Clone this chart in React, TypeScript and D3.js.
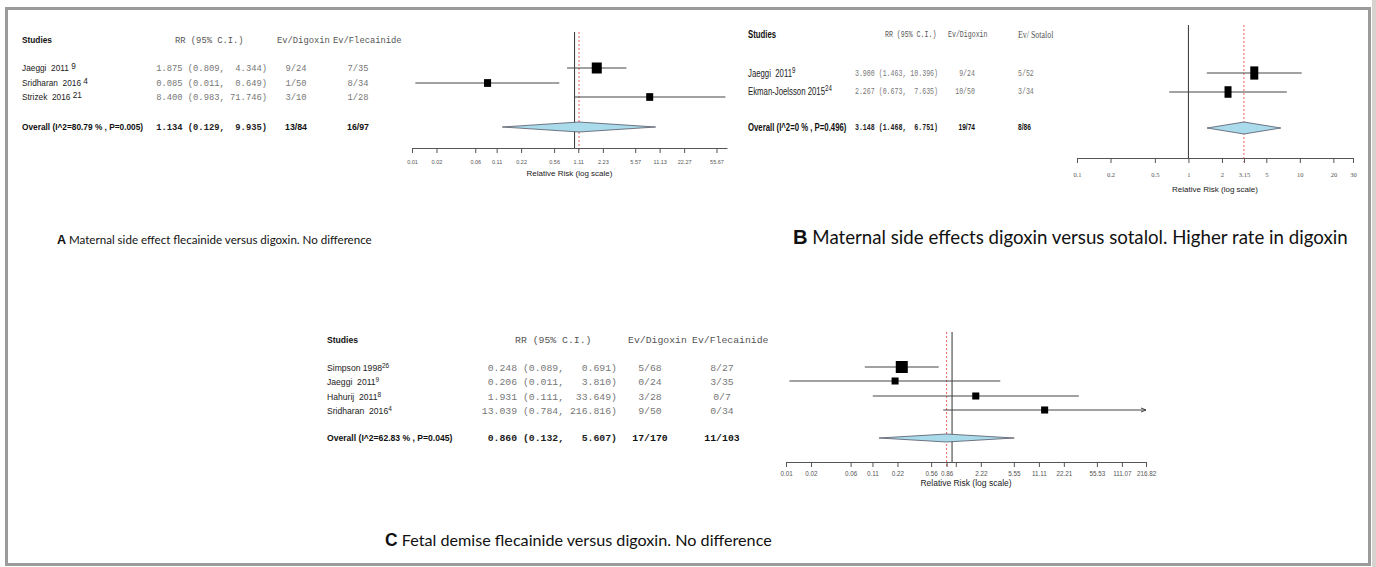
import React, { useEffect, useRef } from "react";
import * as d3 from "d3";

const W = 1376;
const H = 567;

const sans = "'Liberation Sans', Arial, sans-serif";
const mono = "'Liberation Mono', 'Courier New', monospace";
const serif = "'Liberation Serif', 'Times New Roman', serif";
const captionFont = "Lato, 'Open Sans', sans-serif";

// A: maternal side effect, flecainide vs digoxin
const aStudies = ["Jaeggi  2011", "Sridharan  2016", "Strizek  2016"];
const aRefs = ["9", "4", "21"];
const aRR = [1.875, 0.085, 8.4];
const aLo = [0.809, 0.011, 0.983];
const aHi = [4.344, 0.649, 71.746];
const aDigoxin = ["9/24", "1/50", "3/10"];
const aFlecainide = ["7/35", "8/34", "1/28"];
const aOverallLabel = "Overall (I^2=80.79 % , P=0.005)";
const aOverall = [1.134, 0.129, 9.935];
const aOverallEvents = ["13/84", "16/97"];
const aHeaders = ["RR (95% C.I.)", "Ev/Digoxin", "Ev/Flecainide"];
const aDomain = [0.01, 75];
const aTicks = [0.01, 0.02, 0.06, 0.11, 0.22, 0.56, 1.11, 2.23, 5.57, 11.13, 22.27, 55.67];
const aTickLabels = ["0.01", "0.02", "0.06", "0.11", "0.22", "0.56", "1.11", "2.23", "5.57", "11.13", "22.27", "55.67"];

// B: maternal side effects, digoxin vs sotalol
const bStudies = ["Jaeggi  2011", "Ekman-Joelsson 2015"];
const bRefs = ["9", "24"];
const bRR = [3.9, 2.267];
const bLo = [1.463, 0.673];
const bHi = [10.396, 7.635];
const bDigoxin = ["9/24", "10/50"];
const bSotalol = ["5/52", "3/34"];
const bOverallLabel = "Overall (I^2=0 % , P=0.496)";
const bOverall = [3.148, 1.468, 6.751];
const bOverallEvents = ["19/74", "8/86"];
const bHeaders = ["RR (95% C.I.)", "Ev/Digoxin", "Ev/ Sotalol"];
const bDomain = [0.1, 30];
const bTicks = [0.1, 0.2, 0.5, 1, 2, 3.15, 5, 10, 20, 30];
const bTickLabels = ["0.1", "0.2", "0.5", "1", "2", "3.15", "5", "10", "20", "30"];

// C: fetal demise, flecainide vs digoxin
const cStudies = ["Simpson 1998", "Jaeggi  2011", "Hahurij  2011", "Sridharan  2016"];
const cRefs = ["26", "9", "8", "4"];
const cRR = [0.248, 0.206, 1.931, 13.039];
const cLo = [0.089, 0.011, 0.111, 0.784];
const cHi = [0.691, 3.81, 33.649, 216.816];
const cDigoxin = ["5/68", "0/24", "3/28", "9/50"];
const cFlecainide = ["8/27", "3/35", "0/7", "0/34"];
const cOverallLabel = "Overall (I^2=62.83 % , P=0.045)";
const cOverall = [0.86, 0.132, 5.607];
const cOverallEvents = ["17/170", "11/103"];
const cHeaders = ["RR (95% C.I.)", "Ev/Digoxin", "Ev/Flecainide"];
const cDomain = [0.01, 216.82];
const cTicks = [0.01, 0.02, 0.06, 0.11, 0.22, 0.56, 0.86, 1.11, 2.22, 5.55, 11.11, 22.21, 55.53, 111.07, 216.82];
const cTickLabels = ["0.01", "0.02", "0.06", "0.11", "0.22", "0.56", "0.86", "", "2.22", "5.55", "11.11", "22.21", "55.53", "111.07", "216.82"];

const captions = [
  ["A", "Maternal side effect flecainide versus digoxin. No difference"],
  ["B", "Maternal side effects digoxin versus sotalol. Higher rate in digoxin"],
  ["C", "Fetal demise flecainide versus digoxin. No difference"],
];

function drawForest(svg: any, p: any, L: any) {
  const g = svg.append("g");
  const x = d3.scaleLog().domain(p.domain).range(L.range);
  const n = p.studies.length;
  const st = L.stretch || 1;
  // the B table was scaled taller than wide in the figure
  const stretch = (y: number) => `translate(0,${y}) scale(1,${st}) translate(0,${-y})`;

  // table header
  g.append("text")
    .attr("x", L.nameX)
    .attr("y", L.headY)
    .attr("dy", "0.35em")
    .attr("transform", stretch(L.headY))
    .attr("font-family", sans)
    .attr("font-weight", "bold")
    .attr("font-size", L.nameSize)
    .attr("fill", "#111")
    .text("Studies");
  p.headers.forEach((h: string, i: number) => {
    g.append("text")
      .attr("x", L.headX[i])
      .attr("y", L.headY)
      .attr("dy", "0.35em")
      .attr("transform", stretch(L.headY))
      .attr("font-family", i === 2 && L.serifLast ? serif : mono)
      .attr("font-size", i === 2 && L.serifLast ? L.monoSize * 1.2 : L.monoSize)
      .attr("fill", "#555")
      .style("white-space", "pre")
      .text(h);
  });

  const estW = d3.max([...p.rr, p.overall[0]], (v: number) => v.toFixed(3).length) as number;
  const hiW = d3.max([...p.hi, p.overall[2]], (v: number) => v.toFixed(3).length) as number;
  const rrText = (r: number, l: number, h: number) =>
    `${r.toFixed(3).padStart(estW)} (${l.toFixed(3)}, ${h.toFixed(3).padStart(hiW)})`;

  // study rows
  for (let i = 0; i < n; i++) {
    const y = L.textY[i];
    const t = g
      .append("text")
      .attr("x", L.nameX)
      .attr("y", y)
      .attr("dy", "0.35em")
      .attr("transform", stretch(y))
      .attr("font-family", sans)
      .attr("font-size", L.nameSize)
      .attr("fill", "#222")
      .style("white-space", "pre");
    t.append("tspan").text(p.studies[i] + L.refGap);
    t.append("tspan")
      .attr("dy", -L.supRaise)
      .attr("font-size", L.supSize)
      .text(p.refs[i]);

    g.append("text")
      .attr("x", L.rrX)
      .attr("y", y)
      .attr("dy", "0.35em")
      .attr("transform", stretch(y))
      .attr("text-anchor", "end")
      .attr("font-family", mono)
      .attr("font-size", L.monoSize)
      .attr("fill", "#777")
      .style("white-space", "pre")
      .text(rrText(p.rr[i], p.lo[i], p.hi[i]));

    [p.ev1[i], p.ev2[i]].forEach((ev: string, j: number) => {
      g.append("text")
        .attr("x", L.evX[j])
        .attr("y", y)
        .attr("dy", "0.35em")
        .attr("transform", stretch(y))
        .attr("text-anchor", L.evAnchor[j])
        .attr("font-family", mono)
        .attr("font-size", L.monoSize)
        .attr("fill", "#777")
        .text(ev);
    });
  }

  // overall row
  const oy = L.overallTextY;
  g.append("text")
    .attr("x", L.nameX)
    .attr("y", oy)
    .attr("dy", "0.35em")
    .attr("transform", stretch(oy))
    .attr("font-family", sans)
    .attr("font-weight", "bold")
    .attr("font-size", L.nameSize)
    .attr("fill", "#111")
    .text(p.overallLabel);
  g.append("text")
    .attr("x", L.rrX)
    .attr("y", oy)
    .attr("dy", "0.35em")
    .attr("transform", stretch(oy))
    .attr("text-anchor", "end")
    .attr("font-family", mono)
    .attr("font-weight", "bold")
    .attr("font-size", L.monoSize)
    .attr("fill", "#222")
    .style("white-space", "pre")
    .text(rrText(p.overall[0], p.overall[1], p.overall[2]));
  p.overallEvents.forEach((ev: string, j: number) => {
    g.append("text")
      .attr("x", L.evX[j])
      .attr("y", oy)
      .attr("dy", "0.35em")
      .attr("transform", stretch(oy))
      .attr("text-anchor", L.evAnchor[j])
      .attr("font-family", L.overallEvMono ? mono : sans)
      .attr("font-weight", "bold")
      .attr("font-size", L.monoSize)
      .attr("fill", "#111")
      .text(ev);
  });

  // plot: reference lines
  g.append("line")
    .attr("x1", x(1))
    .attr("x2", x(1))
    .attr("y1", L.plotTop)
    .attr("y2", L.axisY)
    .attr("stroke", "#333")
    .attr("stroke-width", 1);
  g.append("line")
    .attr("x1", x(p.overall[0]))
    .attr("x2", x(p.overall[0]))
    .attr("y1", L.plotTop)
    .attr("y2", L.axisY + 4)
    .attr("stroke", "#f06060")
    .attr("stroke-width", 1)
    .attr("stroke-dasharray", "2,2");

  // CI lines and boxes
  const [r0, r1] = L.range;
  const weights = p.lo.map((lo: number, i: number) => {
    const se = (Math.log(p.hi[i]) - Math.log(lo)) / (2 * 1.96);
    return 1 / (se * se);
  });
  const size = d3
    .scaleLinear()
    .domain(d3.extent(weights) as [number, number])
    .range([L.boxMin, L.boxMax]);
  for (let i = 0; i < n; i++) {
    const y = L.plotY[i];
    const xl = Math.max(r0, x(p.lo[i]));
    const xh = Math.min(r1, x(p.hi[i]));
    g.append("line")
      .attr("x1", xl)
      .attr("x2", xh)
      .attr("y1", y)
      .attr("y2", y)
      .attr("stroke", "#444")
      .attr("stroke-width", 1);
    if (L.arrows && x(p.hi[i]) >= r1 - 1) {
      g.append("path")
        .attr("d", `M${r1},${y}L${r1 - 5},${y - 2}M${r1},${y}L${r1 - 5},${y + 2}`)
        .attr("stroke", "#444")
        .attr("fill", "none");
    }
    const s = size(weights[i]);
    const h = s * L.boxAspect;
    g.append("rect")
      .attr("x", x(p.rr[i]) - s / 2)
      .attr("y", y - h / 2)
      .attr("width", s)
      .attr("height", h)
      .attr("fill", "#000");
  }

  // summary diamond
  const dy = L.overallPlotY;
  const dh = L.diamondH;
  const diamond = d3.line()([
    [x(p.overall[1]), dy],
    [x(p.overall[0]), dy - dh],
    [x(p.overall[2]), dy],
    [x(p.overall[0]), dy + dh],
  ]);
  g.append("path")
    .attr("d", diamond + "Z")
    .attr("fill", "#a9dbea")
    .attr("stroke", "#556")
    .attr("stroke-width", 0.8);

  // axis
  const ax = g
    .append("g")
    .attr("transform", `translate(0,${L.axisY})`)
    .call(
      d3
        .axisBottom(x)
        .tickValues(p.ticks)
        .tickFormat((_d: any, i: number) => p.tickLabels[i])
        .tickSize(5)
        .tickSizeOuter(0)
    );
  ax.select(".domain").attr("stroke", "#555");
  ax.selectAll(".tick line").attr("stroke", "#555");
  ax.selectAll(".tick text")
    .attr("y", L.tickLabelDy)
    .attr("font-family", L.tickFont)
    .attr("font-size", L.tickSize)
    .attr("fill", "#555");
  g.append("text")
    .attr("x", (r0 + r1) / 2)
    .attr("y", L.titleY)
    .attr("dy", "0.35em")
    .attr("text-anchor", "middle")
    .attr("font-family", sans)
    .attr("font-size", L.titleSize)
    .attr("fill", "#222")
    .text("Relative Risk (log scale)");
}

function drawCaption(svg: any, letter: string, body: string, x0: number, x1: number, y: number) {
  const base = 12;
  const t = svg
    .append("text")
    .attr("x", x0)
    .attr("y", y)
    .attr("dy", "0.35em")
    .attr("fill", "#111");
  const a = t
    .append("tspan")
    .attr("font-family", sans)
    .attr("font-weight", "bold")
    .attr("font-size", base * 1.08)
    .text(letter);
  const b = t
    .append("tspan")
    .attr("font-family", captionFont)
    .attr("font-size", base)
    .style("white-space", "pre")
    .text(" " + body);
  // fit the caption to the width it takes in the figure
  const len = t.node().getComputedTextLength();
  const k = (x1 - x0) / len;
  a.attr("font-size", base * 1.08 * k);
  b.attr("font-size", base * k);
}

const App = () => {
  const ref = useRef<SVGSVGElement>(null);

  useEffect(() => {
    const svg = d3.select(ref.current);
    svg.selectAll("*").remove();

    svg.append("rect").attr("width", W).attr("height", H).attr("fill", "#fff");
    svg.append("rect").attr("x", 1372).attr("y", 0).attr("width", 4).attr("height", H).attr("fill", "#d9d3cf");
    svg.append("rect")
      .attr("x", 6.5)
      .attr("y", 8.5)
      .attr("width", 1363)
      .attr("height", 556)
      .attr("fill", "none")
      .attr("stroke", "#9b9b9b")
      .attr("stroke-width", 3);

    drawForest(
      svg,
      {
        studies: aStudies, refs: aRefs, rr: aRR, lo: aLo, hi: aHi,
        ev1: aDigoxin, ev2: aFlecainide, overallLabel: aOverallLabel,
        overall: aOverall, overallEvents: aOverallEvents, headers: aHeaders,
        domain: aDomain, ticks: aTicks, tickLabels: aTickLabels,
      },
      {
        nameX: 22, headY: 40, nameSize: 8.3, monoSize: 8.8, supSize: 8.3, supRaise: 2, refGap: " ",
        headX: [175, 277, 333], textY: [68, 83, 97], overallTextY: 127,
        rrX: 267, evX: [296, 358], evAnchor: ["middle", "middle"],
        range: [412, 727], plotTop: 32, axisY: 148, plotY: [68, 83, 97], overallPlotY: 127,
        diamondH: 5, boxMin: 7, boxMax: 10, boxAspect: 1.1,
        tickLabelDy: 12, tickSize: 5.5, tickFont: sans, titleY: 173, titleSize: 8,
      }
    );

    drawForest(
      svg,
      {
        studies: bStudies, refs: bRefs, rr: bRR, lo: bLo, hi: bHi,
        ev1: bDigoxin, ev2: bSotalol, overallLabel: bOverallLabel,
        overall: bOverall, overallEvents: bOverallEvents, headers: bHeaders,
        domain: bDomain, ticks: bTicks, tickLabels: bTickLabels,
      },
      {
        nameX: 748, headY: 34, nameSize: 7.8, monoSize: 6.6, supSize: 6.2, supRaise: 3, refGap: "",
        stretch: 1.4,
        headX: [885, 948, 1018], serifLast: true, textY: [73, 91], overallTextY: 127,
        rrX: 938, evX: [975, 1018], evAnchor: ["end", "start"],
        range: [1077, 1353], plotTop: 25, axisY: 158, plotY: [73, 92], overallPlotY: 128,
        diamondH: 6, boxMin: 7, boxMax: 8, boxAspect: 1.65,
        tickLabelDy: 14, tickSize: 6.5, tickFont: serif, titleY: 189, titleSize: 8,
      }
    );

    drawForest(
      svg,
      {
        studies: cStudies, refs: cRefs, rr: cRR, lo: cLo, hi: cHi,
        ev1: cDigoxin, ev2: cFlecainide, overallLabel: cOverallLabel,
        overall: cOverall, overallEvents: cOverallEvents, headers: cHeaders,
        domain: cDomain, ticks: cTicks, tickLabels: cTickLabels,
      },
      {
        nameX: 327, headY: 340, nameSize: 8.6, monoSize: 9.8, supSize: 6.5, supRaise: 3, refGap: "",
        headX: [515, 628, 692], textY: [368, 382, 397, 411], overallTextY: 438,
        rrX: 617, evX: [650, 722], evAnchor: ["middle", "middle"], overallEvMono: true,
        range: [786, 1146], plotTop: 332, axisY: 462, plotY: [367, 381, 396, 410], overallPlotY: 438,
        diamondH: 4, boxMin: 7, boxMax: 12, boxAspect: 1, arrows: true,
        tickLabelDy: 10, tickSize: 6.3, tickFont: sans, titleY: 483, titleSize: 8.5,
      }
    );

    drawCaption(svg, captions[0][0], captions[0][1], 57, 372, 238);
    drawCaption(svg, captions[1][0], captions[1][1], 793, 1348, 238);
    drawCaption(svg, captions[2][0], captions[2][1], 385, 772, 540);
  }, []);

  return (
    <svg
      ref={ref}
      width={W}
      height={H}
      style={{ position: "absolute", left: 0, top: 0, display: "block" }}
    />
  );
};

export default App;
